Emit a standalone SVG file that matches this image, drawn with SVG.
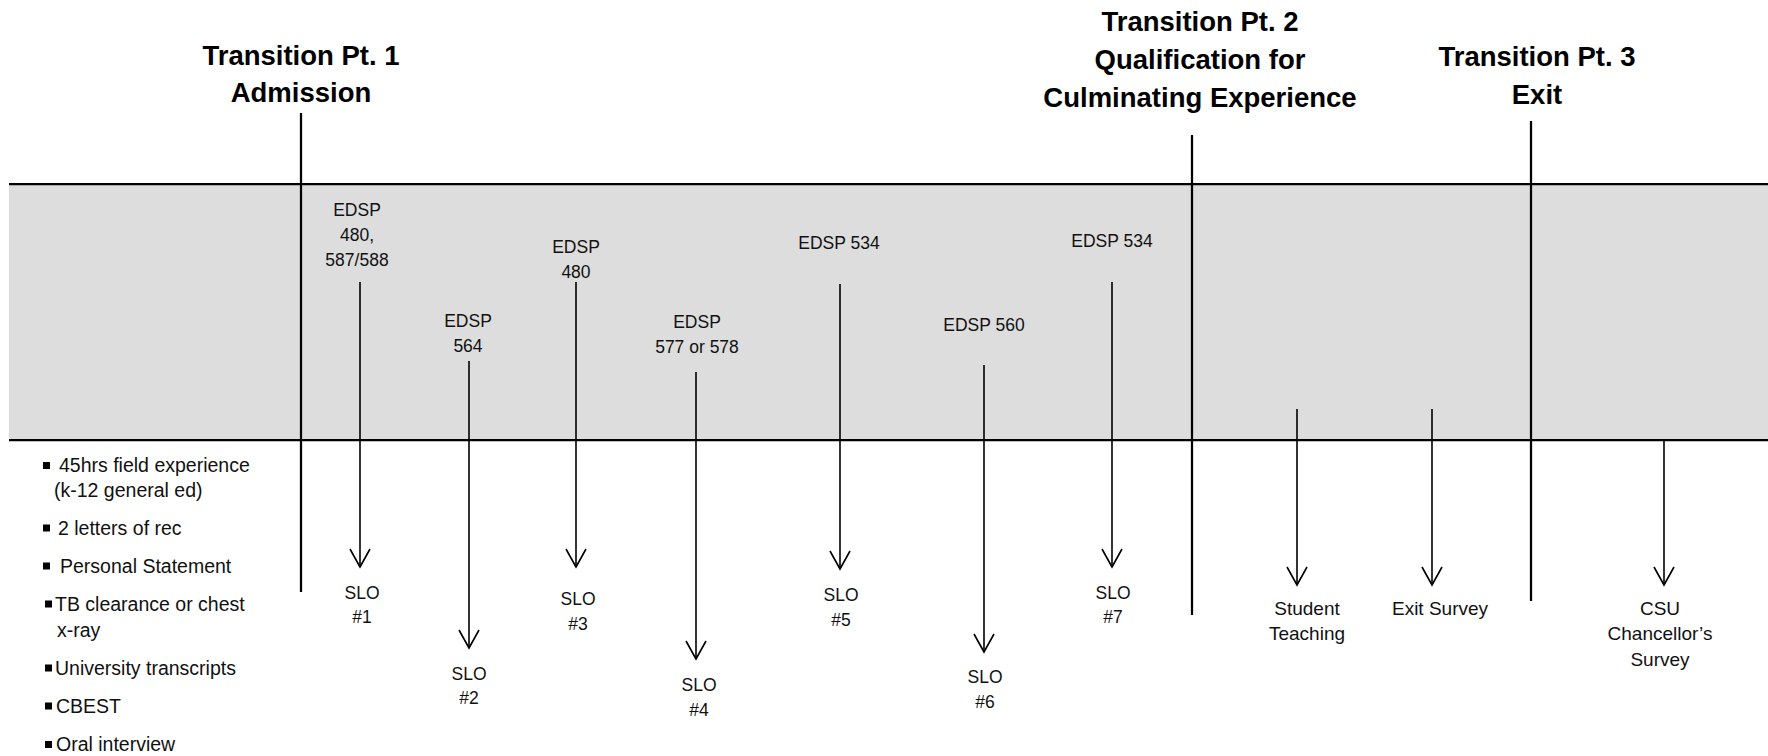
<svg xmlns="http://www.w3.org/2000/svg" width="1768" height="756" viewBox="0 0 1768 756">
<style>
.title{font-family:"Liberation Sans",Arial,sans-serif;font-weight:bold;font-size:27.5px;fill:#000;text-anchor:middle}
.lbl{font-family:"Liberation Sans",Arial,sans-serif;font-size:17.5px;fill:#111;text-anchor:middle}
.lbl2{font-family:"Liberation Sans",Arial,sans-serif;font-size:19px;fill:#111;text-anchor:middle}
.li{font-family:"Liberation Sans",Arial,sans-serif;font-size:19.5px;fill:#111}
.tline{stroke:#000;stroke-width:2.25;fill:none}
.arrow{stroke:#000;stroke-width:1.6;fill:none;marker-end:url(#v)}
.bul{fill:#000}
</style>
<defs>
<marker id="v" markerUnits="userSpaceOnUse" markerWidth="30" markerHeight="30" refX="0" refY="0" orient="auto" overflow="visible">
<path d="M -18 -10 L 0 0 L -18 10" fill="none" stroke="#000" stroke-width="1.6"/>
</marker>
</defs>
<rect width="1768" height="756" fill="#fff"/>
<g id="band">
<rect x="9" y="184" width="1759" height="256" fill="#dddddd"/>
<line class="tline" x1="9" y1="184" x2="1768" y2="184"/>
<line class="tline" x1="9" y1="440" x2="1768" y2="440"/>
</g>
<g id="tp1">
<text class="title" x="301" y="65">Transition Pt. 1</text>
<text class="title" x="301" y="102">Admission</text>
<line class="tline" x1="301" y1="113" x2="301" y2="592"/>
</g>
<g id="tp2">
<text class="title" x="1200" y="31">Transition Pt. 2</text>
<text class="title" x="1200" y="69">Qualification for</text>
<text class="title" x="1200" y="107">Culminating Experience</text>
<line class="tline" x1="1192" y1="135" x2="1192" y2="615"/>
</g>
<g id="tp3">
<text class="title" x="1537" y="66">Transition Pt. 3</text>
<text class="title" x="1537" y="104">Exit</text>
<line class="tline" x1="1531" y1="121" x2="1531" y2="601"/>
</g>
<g id="admission-reqs">
<rect class="bul" x="43" y="462" width="7" height="7"/>
<text class="li" x="59" y="472">45hrs field experience</text>
<text class="li" x="54" y="497">(k-12 general ed)</text>
<rect class="bul" x="43" y="524.5" width="7" height="7"/>
<text class="li" x="58" y="534.5">2 letters of rec</text>
<rect class="bul" x="43" y="562.5" width="7" height="7"/>
<text class="li" x="60" y="572.5">Personal Statement</text>
<rect class="bul" x="45" y="600.5" width="7" height="7"/>
<text class="li" x="55" y="610.5">TB clearance or chest</text>
<text class="li" x="57" y="636.5">x-ray</text>
<rect class="bul" x="45" y="664.5" width="7" height="7"/>
<text class="li" x="55" y="674.5">University transcripts</text>
<rect class="bul" x="45" y="702.5" width="7" height="7"/>
<text class="li" x="56" y="712.5">CBEST</text>
<rect class="bul" x="45" y="741" width="7" height="7"/>
<text class="li" x="56" y="751">Oral interview</text>
</g>
<g id="course1"><text class="lbl" x="357" y="215.5">EDSP</text><text class="lbl" x="357" y="240.5">480,</text><text class="lbl" x="357" y="265.5">587/588</text></g>
<g id="course2"><text class="lbl" x="468" y="326.5">EDSP</text><text class="lbl" x="468" y="351.5">564</text></g>
<g id="course3"><text class="lbl" x="576" y="253">EDSP</text><text class="lbl" x="576" y="278">480</text></g>
<g id="course4"><text class="lbl" x="697" y="328">EDSP</text><text class="lbl" x="697" y="353">577 or 578</text></g>
<g id="course5"><text class="lbl" x="839" y="249">EDSP 534</text></g>
<g id="course6"><text class="lbl" x="984" y="331">EDSP 560</text></g>
<g id="course7"><text class="lbl" x="1112" y="247">EDSP 534</text></g>
<g id="slo1"><text class="lbl" x="362" y="599">SLO</text><text class="lbl" x="362" y="623">#1</text></g>
<g id="slo2"><text class="lbl" x="469" y="679.5">SLO</text><text class="lbl" x="469" y="703.5">#2</text></g>
<g id="slo3"><text class="lbl" x="578" y="605">SLO</text><text class="lbl" x="578" y="630">#3</text></g>
<g id="slo4"><text class="lbl" x="699" y="691">SLO</text><text class="lbl" x="699" y="716">#4</text></g>
<g id="slo5"><text class="lbl" x="841" y="600.5">SLO</text><text class="lbl" x="841" y="626">#5</text></g>
<g id="slo6"><text class="lbl" x="985" y="682.5">SLO</text><text class="lbl" x="985" y="708">#6</text></g>
<g id="slo7"><text class="lbl" x="1113" y="599">SLO</text><text class="lbl" x="1113" y="623">#7</text></g>
<g id="student-teaching"><text class="lbl2" x="1307" y="615">Student</text><text class="lbl2" x="1307" y="640">Teaching</text></g>
<g id="exit-survey"><text class="lbl2" x="1440" y="615">Exit Survey</text></g>
<g id="csu-survey"><text class="lbl2" x="1660" y="615">CSU</text><text class="lbl2" x="1660" y="640">Chancellor’s</text><text class="lbl2" x="1660" y="666">Survey</text></g>
<g id="connectors">
<line class="arrow" x1="360" y1="282" x2="360" y2="567"/>
<line class="arrow" x1="469" y1="361" x2="469" y2="648"/>
<line class="arrow" x1="576" y1="282" x2="576" y2="567"/>
<line class="arrow" x1="696" y1="372" x2="696" y2="659"/>
<line class="arrow" x1="840" y1="284" x2="840" y2="569"/>
<line class="arrow" x1="984" y1="365" x2="984" y2="652"/>
<line class="arrow" x1="1112" y1="282" x2="1112" y2="567"/>
<line class="arrow" x1="1297" y1="409" x2="1297" y2="585"/>
<line class="arrow" x1="1432" y1="409" x2="1432" y2="585"/>
<line class="arrow" x1="1664" y1="441" x2="1664" y2="585"/>
</g>
</svg>
